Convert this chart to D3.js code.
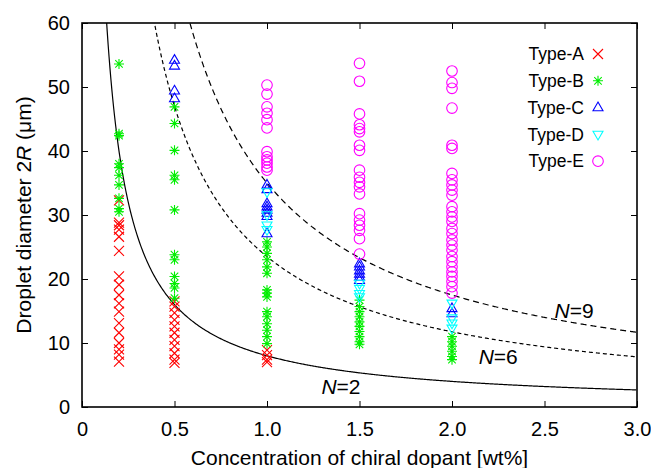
<!DOCTYPE html>
<html>
<head>
<meta charset="utf-8">
<script src="https://cdn.jsdelivr.net/npm/d3@7"></script>
<style>
  body { margin: 0; background: #fff; }
  svg text { font-family: "Liberation Sans", Arial, Helvetica, sans-serif; fill: #000; }
</style>
</head>
<body>
<script>

// droplet diameters (um) per type, as [concentration wt%, diameter]
var typeA = [
  [0.2, 32.3], [0.2, 28.8], [0.2, 28.4], [0.2, 27.7], [0.2, 26.6], [0.2, 24.4], [0.2, 20.4], [0.2, 19.1],
  [0.2, 17.5], [0.2, 16.2], [0.2, 14.9], [0.2, 13.1], [0.2, 11.6], [0.2, 10.0], [0.2, 9.0], [0.2, 8.2], [0.2, 7.1],
  [0.5, 16.5], [0.5, 15.7], [0.5, 14.7], [0.5, 13.6], [0.5, 12.6], [0.5, 11.6], [0.5, 10.5], [0.5, 9.5],
  [0.5, 8.4], [0.5, 7.4], [0.5, 6.9],
  [1.0, 8.9], [1.0, 8.1], [1.0, 7.4], [1.0, 7.0]
];
var typeB = [
  [0.2, 53.6], [0.2, 42.7], [0.2, 42.4], [0.2, 38.0], [0.2, 37.4], [0.2, 36.2], [0.2, 34.7], [0.2, 32.6], [0.2, 31.0], [0.2, 30.5],
  [0.5, 46.9], [0.5, 44.3], [0.5, 40.1], [0.5, 36.2], [0.5, 35.5], [0.5, 30.8], [0.5, 23.8], [0.5, 23.0],
  [0.5, 20.4], [0.5, 19.3], [0.5, 18.6], [0.5, 17.0],
  [1.0, 25.8], [1.0, 25.0], [1.0, 24.0], [1.0, 23.0], [1.0, 21.9], [1.0, 20.9], [1.0, 18.3], [1.0, 17.8],
  [1.0, 17.2], [1.0, 14.9], [1.0, 14.1], [1.0, 13.0], [1.0, 12.0], [1.0, 11.0], [1.0, 9.9],
  [1.5, 16.7], [1.5, 15.7], [1.5, 14.9], [1.5, 14.1], [1.5, 13.3], [1.5, 12.6], [1.5, 11.8], [1.5, 11.0], [1.5, 10.2], [1.5, 9.8],
  [2.0, 11.0], [2.0, 10.2], [2.0, 9.5], [2.0, 8.7], [2.0, 7.9], [2.0, 7.4]
];
var typeC = [
  [0.5, 54.2], [0.5, 53.3], [0.5, 49.4], [0.5, 48.2],
  [1.0, 34.7], [1.0, 34.0], [1.0, 31.8], [1.0, 31.3], [1.0, 30.8], [1.0, 30.3], [1.0, 29.8], [1.0, 27.1],
  [1.5, 22.4], [1.5, 21.9], [1.5, 21.3], [1.5, 20.8], [1.5, 20.3], [1.5, 19.8],
  [2.0, 15.4], [2.0, 14.6]
];
var typeD = [
  [1.0, 33.6], [1.0, 30.0], [1.0, 28.4], [1.0, 27.7],
  [1.5, 19.3], [1.5, 18.5], [1.5, 17.7], [1.5, 17.2],
  [2.0, 16.2], [2.0, 13.9], [2.0, 13.1], [2.0, 12.3]
];
var typeE = [
  [1.0, 50.3], [1.0, 48.9], [1.0, 46.9], [1.0, 45.9], [1.0, 44.9], [1.0, 43.6],
  [1.0, 39.9], [1.0, 39.1], [1.0, 38.6], [1.0, 38.1], [1.0, 37.5], [1.0, 37.0],
  [1.5, 53.7], [1.5, 50.9], [1.5, 45.8], [1.5, 44.1], [1.5, 43.5], [1.5, 43.0], [1.5, 40.9], [1.5, 40.1],
  [1.5, 37.0], [1.5, 35.9], [1.5, 35.1], [1.5, 34.4], [1.5, 33.3], [1.5, 30.2], [1.5, 29.2], [1.5, 28.4],
  [1.5, 27.6], [1.5, 26.3], [1.5, 23.9],
  [2.0, 52.5], [2.0, 50.7], [2.0, 49.8], [2.0, 46.7], [2.0, 40.9], [2.0, 40.4], [2.0, 36.5], [2.0, 35.5],
  [2.0, 34.7], [2.0, 33.9], [2.0, 33.1], [2.0, 31.3], [2.0, 30.5], [2.0, 29.7], [2.0, 29.0], [2.0, 27.9],
  [2.0, 27.1], [2.0, 26.1], [2.0, 25.3], [2.0, 24.5], [2.0, 23.5], [2.0, 22.7], [2.0, 21.9], [2.0, 21.1],
  [2.0, 20.4], [2.0, 19.6], [2.0, 18.8], [2.0, 17.8]
];

var typeNames = ["Type-A", "Type-B", "Type-C", "Type-D", "Type-E"];
var typeColors = ["#ff0000", "#00ee00", "#0000ff", "#00ffff", "#ff00ff"];
var typeShapes = ["cross", "star", "up", "down", "circle"];

// model curves 2R = k / c
var curveNames = ["2", "6", "9"];
var curveK = [8, 23.5, 35];
var curveDash = [null, "4,3", "6,4"];
var curveLabelAt = [[1.4, 2.1], [2.25, 6.7], [2.66, 13.9]];

var xTicks = [0, 0.5, 1.0, 1.5, 2.0, 2.5, 3.0];
var yTicks = [0, 10, 20, 30, 40, 50, 60];

var W = 651, H = 468;
var margin = {top: 23, right: 14, bottom: 61, left: 82},
    width = W - margin.left - margin.right,
    height = H - margin.top - margin.bottom;

var svg = d3.select("body").append("svg").attr("width", W).attr("height", H);
var g = svg.append("g").attr("transform", "translate(" + margin.left + "," + margin.top + ")");

var x = d3.scaleLinear().domain([0, 3]).range([0, width]);
var y = d3.scaleLinear().domain([0, 60]).range([height, 0]);

svg.append("defs").append("clipPath").attr("id", "clip")
  .append("rect").attr("width", width).attr("height", height);

// axes, ticks pointing inward (mirrored on top/right)
var fmtX = function(d) { return d === 0 ? "0" : d3.format(".1f")(d); };
var ax = g.append("g").attr("transform", "translate(0," + height + ")")
  .call(d3.axisBottom(x).tickValues(xTicks).tickFormat(fmtX).tickSizeInner(-6).tickSizeOuter(0).tickPadding(15));
var ay = g.append("g")
  .call(d3.axisLeft(y).tickValues(yTicks).tickSizeInner(-6).tickSizeOuter(0).tickPadding(12));
var axT = g.append("g")
  .call(d3.axisTop(x).tickValues(xTicks).tickFormat("").tickSizeInner(-6).tickSizeOuter(0));
var ayR = g.append("g").attr("transform", "translate(" + width + ",0)")
  .call(d3.axisRight(y).tickValues(yTicks).tickFormat("").tickSizeInner(-6).tickSizeOuter(0));

[ax, ay, axT, ayR].forEach(function(a) {
  a.selectAll(".domain").remove();
  a.selectAll("line").attr("stroke", "#000").attr("stroke-width", 1);
  a.selectAll("text").style("font-size", "20px");
});

g.append("rect").attr("width", width).attr("height", height)
  .attr("fill", "none").attr("stroke", "#000").attr("stroke-width", 1.6);

// curves
var plot = g.append("g").attr("clip-path", "url(#clip)");
var line = d3.line().x(function(d) { return x(d[0]); }).y(function(d) { return y(d[1]); });
curveK.forEach(function(k, i) {
  var pts = d3.range(k / 66, 3.001, 0.005).map(function(c) { return [c, k / c]; });
  plot.append("path").datum(pts)
    .attr("d", line)
    .attr("fill", "none")
    .attr("stroke", "#000")
    .attr("stroke-width", 1.2)
    .attr("stroke-dasharray", curveDash[i]);
  var lab = g.append("text")
    .attr("x", x(curveLabelAt[i][0]))
    .attr("y", y(curveLabelAt[i][1]))
    .attr("text-anchor", "middle")
    .style("font-size", "21px");
  lab.append("tspan").style("font-style", "italic").text("N");
  lab.append("tspan").text("=" + curveNames[i]);
});

// marker drawing
function marker(sel, shape, color) {
  var s = 5;
  if (shape === "cross") {
    sel.append("path").attr("d", "M" + (-s) + "," + (-s) + "L" + s + "," + s + "M" + (-s) + "," + s + "L" + s + "," + (-s));
  } else if (shape === "star") {
    sel.append("path").attr("d", "M" + (-s) + ",0L" + s + ",0M0," + (-s) + "L0," + s +
      "M" + (-s * 0.75) + "," + (-s * 0.75) + "L" + (s * 0.75) + "," + (s * 0.75) +
      "M" + (-s * 0.75) + "," + (s * 0.75) + "L" + (s * 0.75) + "," + (-s * 0.75));
  } else if (shape === "up") {
    sel.append("path").attr("d", "M0,-5.5L5,3.2L-5,3.2Z");
  } else if (shape === "down") {
    sel.append("path").attr("d", "M0,5.5L5,-3.2L-5,-3.2Z");
  } else {
    sel.append("circle").attr("r", 5.3);
  }
  sel.selectAll("path,circle").attr("fill", "none").attr("stroke", color).attr("stroke-width", 1.1);
}

var series = [typeA, typeB, typeC, typeD, typeE];
series.forEach(function(data, i) {
  plot.selectAll(".p" + i)
    .data(data)
    .enter().append("g")
      .attr("class", "p" + i)
      .attr("transform", function(d) { return "translate(" + x(d[0]) + "," + y(d[1]) + ")"; })
      .each(function() { marker(d3.select(this), typeShapes[i], typeColors[i]); });
});

// legend
var leg = svg.append("g");
typeNames.forEach(function(name, i) {
  var yy = 54 + i * 26.8;
  leg.append("text").attr("x", 584).attr("y", yy).attr("dy", "0.35em")
    .attr("text-anchor", "end").style("font-size", "17.5px").text(name);
  var m = leg.append("g").attr("transform", "translate(598," + yy + ")");
  marker(m, typeShapes[i], typeColors[i]);
});

// axis titles
svg.append("text")
  .attr("x", margin.left + width / 2).attr("y", 465)
  .attr("text-anchor", "middle").style("font-size", "21px")
  .text("Concentration of chiral dopant [wt%]");

var yt = svg.append("text")
  .attr("transform", "translate(31," + (margin.top + height / 2) + ") rotate(-90)")
  .attr("text-anchor", "middle").style("font-size", "21px");
yt.append("tspan").text("Droplet diameter 2");
yt.append("tspan").style("font-style", "italic").text("R");
yt.append("tspan").text(" (\u03bcm)");

</script>
